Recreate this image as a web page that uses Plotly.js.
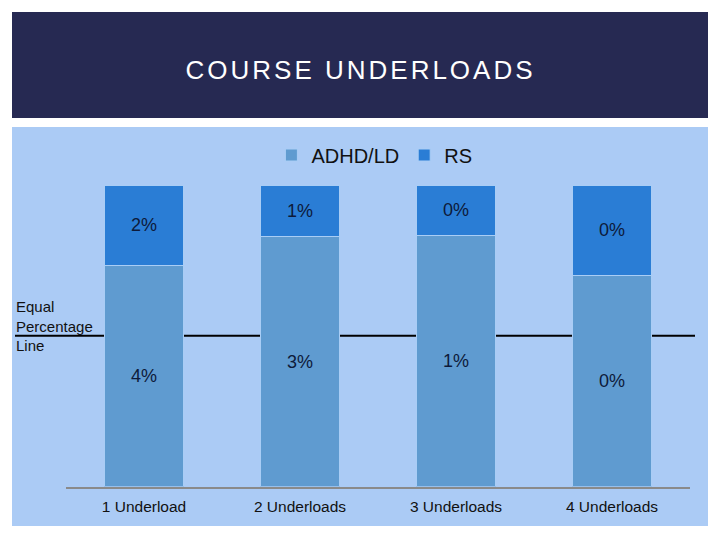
<!DOCTYPE html>
<html>
<head>
<meta charset="utf-8">
<script src="https://cdn.plot.ly/plotly-3.0.1.min.js"></script>
<style>
  html, body { margin: 0; padding: 0; background: #fff; }
  #chart { width: 720px; height: 540px; }
  /* the slide title is set with wide letter spacing */
  .annotation[data-index="0"] text { letter-spacing: 3px; }
</style>
</head>
<body>
<div id="chart"></div>
<script>
  // Share of students with course underloads, by number of underloads.
  const categories = ["1 Underload", "2 Underloads", "3 Underloads", "4 Underloads"];
  const adhdLd = [4.4, 2.9, 1.2, 0.35];
  const rs = [1.6, 0.6, 0.24, 0.15];
  const equalLine = 50; // half of each 100% stack

  const NAVY = "#262952";
  const PANEL = "#abcbf5";
  const ADHD_COLOR = "#5f9bd0";
  const RS_COLOR = "#2a7dd5";
  const FONT = "Liberation Sans, Arial, sans-serif";
  const W = 720;
  const H = 540;

  // margins are zero, so paper fractions are page fractions
  const px = (x) => x / W;
  const py = (y) => 1 - y / H;

  function pct(values) {
    return values.map((v) => Math.round(v) + "%");
  }

  function barTrace(name, values, color) {
    return {
      type: "bar",
      name: name,
      x: categories,
      y: values,
      text: pct(values),
      texttemplate: "%{text}",
      textposition: "inside",
      insidetextanchor: "middle",
      textangle: 0,
      constraintext: "none",
      textfont: { family: FONT, size: 18, color: "#0d1a3a" },
      marker: { color: color, line: { color: "#a9cdf5", width: 1 } },
      hoverinfo: "skip",
    };
  }

  const traces = [
    barTrace("ADHD/LD", adhdLd, ADHD_COLOR),
    barTrace("RS", rs, RS_COLOR),
  ];

  const layout = {
    width: W,
    height: H,
    margin: { l: 0, r: 0, t: 0, b: 0 },
    paper_bgcolor: "#ffffff",
    plot_bgcolor: "rgba(0,0,0,0)",
    font: { family: FONT, color: "#111111" },
    barmode: "stack",
    barnorm: "percent",
    bargap: 0.49,
    showlegend: true,
    legend: {
      orientation: "h",
      x: 0.52,
      xanchor: "center",
      y: py(155),
      yanchor: "middle",
      bgcolor: "rgba(0,0,0,0)",
      font: { family: FONT, size: 20, color: "#111111" },
      traceorder: "normal",
    },
    xaxis: {
      domain: [px(66), px(690)],
      showline: true,
      linecolor: "#8a8a8a",
      linewidth: 2,
      showgrid: false,
      ticks: "outside",
      ticklen: 5,
      tickcolor: "rgba(0,0,0,0)",
      tickfont: { family: FONT, size: 15.5, color: "#111111" },
      fixedrange: true,
    },
    yaxis: {
      domain: [py(486.5), py(185)],
      range: [0, 100],
      visible: false,
      fixedrange: true,
    },
    shapes: [
      {
        type: "rect", xref: "paper", yref: "paper", layer: "below",
        x0: px(12), x1: px(708), y0: py(118), y1: py(12),
        fillcolor: NAVY, line: { width: 0 },
      },
      {
        type: "rect", xref: "paper", yref: "paper", layer: "below",
        x0: px(12), x1: px(708), y0: py(526), y1: py(127),
        fillcolor: PANEL, line: { width: 0 },
      },
      // the line runs behind the bars
      {
        type: "line", xref: "paper", yref: "y", layer: "below",
        x0: px(15), x1: px(695), y0: equalLine, y1: equalLine,
        line: { color: "#000000", width: 2 },
      },
    ],
    annotations: [
      {
        text: "COURSE UNDERLOADS",
        xref: "paper", yref: "paper",
        x: px(360), xanchor: "center",
        y: py(70), yanchor: "middle",
        showarrow: false,
        font: { family: FONT, size: 26, color: "#ffffff" },
      },
      {
        text: "Equal<br>Percentage<br>Line",
        xref: "paper", yref: "paper",
        x: px(14), xanchor: "left",
        y: py(295.5), yanchor: "top",
        align: "left",
        showarrow: false,
        font: { family: FONT, size: 15, color: "#111111" },
      },
    ],
  };

  Plotly.newPlot("chart", traces, layout, { displayModeBar: false, staticPlot: true });
</script>
</body>
</html>
